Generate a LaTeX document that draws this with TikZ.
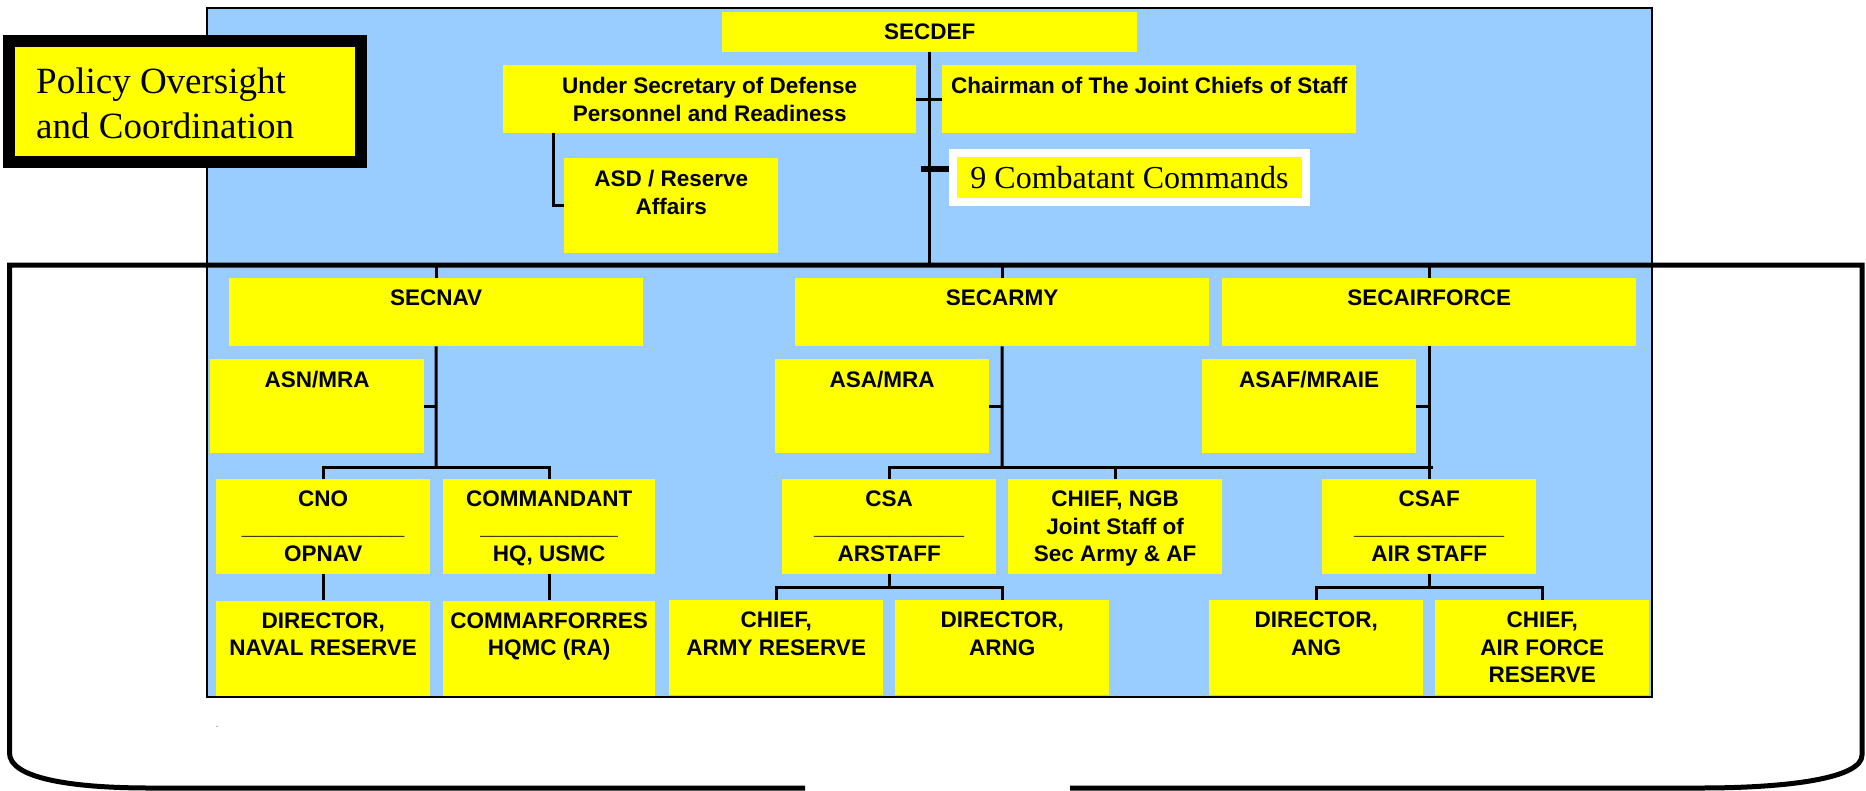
\documentclass[tikz,border=0pt]{standalone}
\usepackage{fontspec}
\setmainfont{Liberation Serif}
\setsansfont{Liberation Sans}
\usetikzlibrary{positioning}

\definecolor{panelblue}{HTML}{99CCFF}
\definecolor{boxyellow}{HTML}{FFFF00}

\tikzset{
  unit/.style={fill=boxyellow, inner sep=0pt, anchor=north west, minimum width=214pt, minimum height=95pt},
  tag/.style={anchor=north, inner sep=0pt, yshift=-12pt, align=center,
    font=\sffamily\bfseries\fontsize{22.5}{27.5}\selectfont},
  link/.style={line width=3pt},
  frame/.style={line width=5pt}
}

\begin{document}
\begin{tikzpicture}[x=1pt, y=-1pt]
  \useasboundingbox (0,0) rectangle (1866,790);
  \fill[panelblue, draw=black, line width=2pt] (207,8) rectangle (1652,697);
  \draw[frame] (805,788) -- (150,788) .. controls (70,788) and (9.5,778) .. (9.5,753)
    -- (9.5,265) -- (1862,265) -- (1862,755) .. controls (1862,778) and (1790,788) .. (1700,788) -- (1070,788);

  \node[fill=boxyellow, draw=black, line width=12pt, minimum width=352pt, minimum height=121pt, inner sep=0pt,
    label={[anchor=base west, inner sep=0pt, xshift=33pt, yshift=-103pt, align=left, font=\fontsize{37}{45}\selectfont]north west:{Policy Oversight\\and Coordination}}] (policy) at (185,101.5) {};

  \node[unit, minimum width=415pt, minimum height=40pt, label={[tag]north:{SECDEF}}] (secdef) at (722,12) {};
  \node[unit, minimum width=413pt, minimum height=68pt, label={[tag]north:{Under Secretary of Defense\\Personnel and Readiness}}] (usd) at (503,65) {};
  \node[unit, minimum width=414pt, minimum height=68pt, label={[tag]north:{Chairman of The Joint Chiefs of Staff}}] (cjcs) at (942,65) {};
  \node[unit, label={[tag]north:{ASD / Reserve\\Affairs}}] (asd) at (564,158) {};
  \node[fill=boxyellow, draw=white, line width=8pt, minimum width=353pt, minimum height=49pt, inner sep=0pt,
    font=\fontsize{32}{38}\selectfont] (cocom) at (1129.5,177.5) {9 Combatant Commands};

  \node[unit, minimum width=414pt, minimum height=68pt, label={[tag]north:{SECNAV}}] (secnav) at (229,278) {};
  \node[unit, minimum width=414pt, minimum height=68pt, label={[tag]north:{SECARMY}}] (secarmy) at (795,278) {};
  \node[unit, minimum width=414pt, minimum height=68pt, label={[tag]north:{SECAIRFORCE}}] (secaf) at (1222,278) {};

  \node[unit, minimum height=94pt, label={[tag]north:{ASN/MRA}}] (asnmra) at (210,359) {};
  \node[unit, minimum height=94pt, label={[tag]north:{ASA/MRA}}] (asamra) at (775,359) {};
  \node[unit, minimum height=94pt, label={[tag]north:{ASAF/MRAIE}}] (asafmra) at (1202,359) {};

  \node[unit, label={[tag]north:{CNO\\\_\_\_\_\_\_\_\_\_\_\_\_\_\\OPNAV}}] (cno) at (216,479) {};
  \node[unit, minimum width=212pt, label={[tag]north:{COMMANDANT\\\_\_\_\_\_\_\_\_\_\_\_\\HQ, USMC}}] (cmc) at (443,479) {};
  \node[unit, label={[tag]north:{CSA\\\_\_\_\_\_\_\_\_\_\_\_\_\\ARSTAFF}}] (csa) at (782,479) {};
  \node[unit, label={[tag]north:{CHIEF, NGB\\Joint Staff of\\Sec Army \& AF}}] (ngb) at (1008,479) {};
  \node[unit, label={[tag]north:{CSAF\\\_\_\_\_\_\_\_\_\_\_\_\_\\AIR STAFF}}] (csaf) at (1322,479) {};

  \node[unit, below=26pt of cno, label={[tag]north:{DIRECTOR,\\NAVAL RESERVE}}] (dnr) {};
  \node[unit, minimum width=212pt, below=26pt of cmc, label={[tag]north:{COMMARFORRES\\HQMC (RA)}}] (marfor) {};
  \node[unit, label={[tag]north:{CHIEF,\\ARMY RESERVE}}] (usar) at (669,600) {};
  \node[unit, label={[tag]north:{DIRECTOR,\\ARNG}}] (arng) at (895,600) {};
  \node[unit, label={[tag]north:{DIRECTOR,\\ANG}}] (ang) at (1209,600) {};
  \node[unit, label={[tag]north:{CHIEF,\\AIR FORCE\\RESERVE}}] (afr) at (1435,600) {};

  \node[text=gray, font=\fontsize{12}{12}\selectfont, inner sep=0pt] (dot) at (217,727) {.};

  \coordinate (bus) at (929,265);
  \coordinate (navybus) at (436,467);
  \coordinate (armybus) at (1002,467);

  \draw[link] (secdef.south) -- (secdef.south |- bus);
  \draw[link] (usd.east) -- (cjcs.west);
  \draw[line width=6pt] ([yshift=8.5pt]cocom.west) -- ++(-28,0);
  \draw[link] (asd.west) -| ([xshift=50pt]usd.south west);
  \draw[link] (secnav.north) -- (secnav.north |- bus);
  \draw[link] (secarmy.north) -- (secarmy.north |- bus);
  \draw[link] (secaf.north) -- (secaf.north |- bus);
  \draw[link] (secnav.south) -- (navybus);
  \draw[link] (asnmra.east) -- (asnmra.east -| navybus);
  \draw[link] (cno.north) |- (navybus) -| (cmc.north);
  \draw[link] (secarmy.south) -- (armybus);
  \draw[link] (asamra.east) -- (asamra.east -| armybus);
  \draw[link] (csa.north) |- (armybus) -- ([xshift=4pt]armybus -| secaf.south);
  \draw[link] (ngb.north) -- (ngb.north |- armybus);
  \draw[link] (secaf.south) -- (csaf.north);
  \draw[link] (asafmra.east) -- (asafmra.east -| secaf.south);
  \draw[link] (cno.south) -- (dnr.north);
  \draw[link] (cmc.south) -- (marfor.north);
  \draw[link] (csa.south) -- ([yshift=-13pt]csa.south);
  \draw[link] (usar.north) |- ([yshift=-13pt]csa.south) -| (arng.north);
  \draw[link] (csaf.south) -- ([yshift=-13pt]csaf.south);
  \draw[link] (ang.north) |- ([yshift=-13pt]csaf.south) -| (afr.north);
\end{tikzpicture}
\end{document}
